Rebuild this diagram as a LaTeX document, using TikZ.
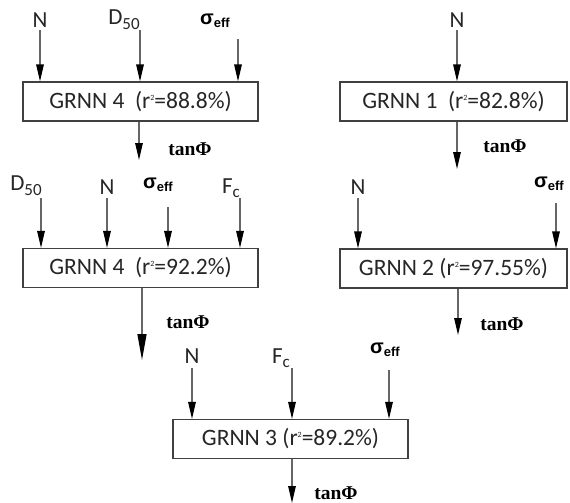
\documentclass[tikz,border=0pt]{standalone}
\usepackage{fontspec}
\setmainfont{Carlito}
\newfontfamily\arialf{Liberation Sans}
\newfontfamily\timesf{Liberation Serif}
\usetikzlibrary{arrows.meta}
\newcommand\seff{σ\raisebox{-3pt}{\fontsize{13}{13}\selectfont eff}}
\newcommand\dfifty{D\raisebox{-5pt}{\fontsize{17}{17}\selectfont 50}}
\newcommand\fcee{F\raisebox{-4pt}{\fontsize{17}{17}\selectfont c}}
\newcommand\rsq{r\raisebox{8pt}{\fontsize{8}{8}\selectfont 2}}
\newcommand\tanphi{tanΦ}
\tikzset{
  box/.style={draw=black!75, line width=1.1pt, fill=white, minimum height=39pt,
    inner sep=0pt, font=\fontsize{23.5}{23.5}\selectfont, text=black!85},
  lab/.style={anchor=base, inner sep=0pt, font=\fontsize{23}{23}\selectfont, text=black!85},
  sig/.style={anchor=base, inner sep=0pt, font=\arialf\bfseries\fontsize{20}{20}\selectfont},
  tanl/.style={anchor=base, inner sep=0pt, font=\timesf\bfseries\fontsize{19.5}{19.5}\selectfont},
  arr/.style={draw=black!60, line width=1.3pt, -{Triangle[length=17pt,width=7.5pt,color=black]}},
  longarr/.style={draw=black!60, line width=1.3pt, -{Triangle[length=26pt,width=9pt,color=black]}}
}
\begin{document}
\begin{tikzpicture}[x=1pt,y=-1pt]
\useasboundingbox (0,0) rectangle (570,503);
% ---- boxes
\node[box, minimum width=235pt] (b1) at (140.5,101.5) {GRNN 4\ \ (\rsq=88.8\%)};
\node[box, minimum width=227pt] (b2) at (453.5,101.5) {GRNN 1\ \ (\rsq=82.8\%)};
\node[box, minimum width=235pt] (b3) at (140.5,268) {GRNN 4\ \ (\rsq=92.2\%)};
\node[box, minimum width=227pt] (b4) at (453.5,268.5) {GRNN 2 (\rsq=97.55\%)};
\node[box, minimum width=235pt] (b5) at (290.5,439) {GRNN 3 (\rsq=89.2\%)};
% ---- row 1 left
\node[lab] (n1) at (40,28) {N};
\node[lab] (d1) at (124,25) {\dfifty};
\node[sig] (s1) at (215,25) {\seff};
\coordinate (n1a) at (40,30);
\coordinate (d1a) at (140,30);
\coordinate (s1a) at (238,39);
\draw[arr] (n1a) -- (n1a |- b1.north);
\draw[arr] (d1a) -- (d1a |- b1.north);
\draw[arr] (s1a) -- (s1a |- b1.north);
\coordinate (o1) at (139,160);
\draw[arr] (o1 |- b1.south) -- (o1);
\node[tanl] (t1) at (190,155) {\tanphi};
% ---- row 1 right
\node[lab] (n2) at (457,28) {N};
\coordinate (n2a) at (457,30);
\draw[arr] (n2a) -- (n2a |- b2.north);
\coordinate (o2) at (457,169);
\draw[arr] (o2 |- b2.south) -- (o2);
\node[tanl] (t2) at (505,152) {\tanphi};
% ---- row 2 left
\node[lab] (d3) at (26,190) {\dfifty};
\node[lab] (n3) at (107,194) {N};
\node[sig] (s3) at (158,188) {\seff};
\node[lab] (f3) at (231,193) {\fcee};
\coordinate (d3a) at (41,198);
\coordinate (n3a) at (107,198);
\coordinate (s3a) at (168,207);
\coordinate (f3a) at (240,198);
\draw[arr] (d3a) -- (d3a |- b3.north);
\draw[arr] (n3a) -- (n3a |- b3.north);
\draw[arr] (s3a) -- (s3a |- b3.north);
\draw[arr] (f3a) -- (f3a |- b3.north);
\coordinate (o3) at (142,360);
\draw[longarr] (o3 |- b3.south) -- (o3);
\node[tanl] (t3) at (188,328) {\tanphi};
% ---- row 2 right
\node[lab] (n4) at (358,194) {N};
\node[sig] (s4) at (549,187) {\seff};
\coordinate (n4a) at (358,198);
\coordinate (s4a) at (556,203);
\draw[arr] (n4a) -- (n4a |- b4.north);
\draw[arr] (s4a) -- (s4a |- b4.north);
\coordinate (o4) at (458,335);
\draw[arr] (o4 |- b4.south) -- (o4);
\node[tanl] (t4) at (502,330) {\tanphi};
% ---- row 3
\node[lab] (n5) at (192,363) {N};
\node[lab] (f5) at (281,363) {\fcee};
\node[sig] (s5) at (385,353) {\seff};
\coordinate (n5a) at (192,368);
\coordinate (f5a) at (292,368);
\coordinate (s5a) at (389,370);
\draw[arr] (n5a) -- (n5a |- b5.north);
\draw[arr] (f5a) -- (f5a |- b5.north);
\draw[arr] (s5a) -- (s5a |- b5.north);
\coordinate (o5) at (292,503);
\draw[arr] (o5 |- b5.south) -- (o5);
\node[tanl] (t5) at (336,499) {\tanphi};
\end{tikzpicture}
\end{document}
